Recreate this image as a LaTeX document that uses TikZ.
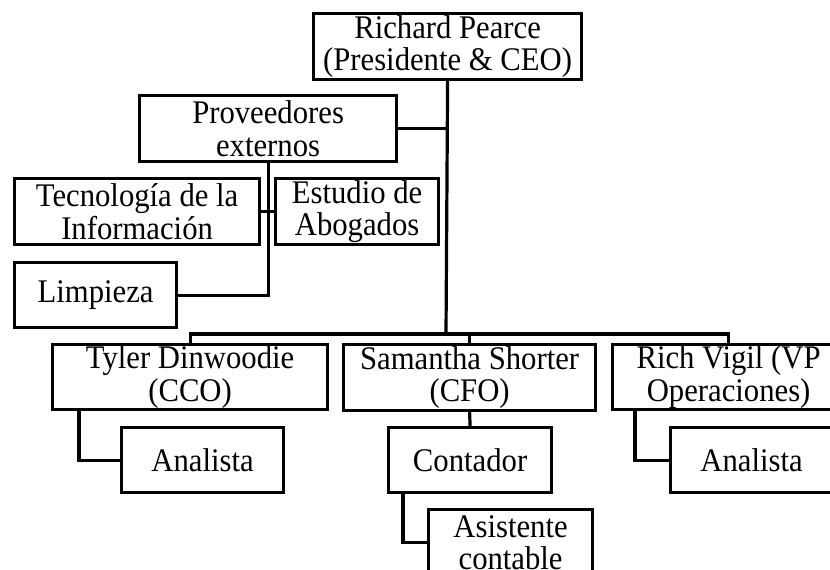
\documentclass[tikz,border=0pt]{standalone}
\usepackage{fontspec}
\setmainfont{Liberation Serif}[FakeStretch=0.93]
\begin{document}
\begin{tikzpicture}[x=1pt,y=-1pt,
  box/.style={draw, line width=3.2pt, inner sep=0pt, align=center, anchor=north west,
    font=\fontsize{33}{32.5}\selectfont},
  link/.style={line width=3.2pt}]
\useasboundingbox (0,0) rectangle (830,570);
\clip (0,0) rectangle (830,570);

% Top of the chart and outside providers
\node[box, minimum width=268pt, minimum height=66pt] (ceo) at (312,12) {Richard Pearce\\(Presidente \& CEO)};
\node[box, minimum width=257pt, minimum height=66pt] (prov) at (138,94) {Proveedores\\externos};
\node[box, minimum width=245pt, minimum height=66pt] (ti) at (13,177) {Tecnología de la\\Información};
\node[box, minimum width=163pt, minimum height=66pt] (abog) at (274,177) {Estudio de\\Abogados};
\node[box, minimum width=162pt, minimum height=65pt] (limp) at (13,261) {Limpieza};

% Direct reports
\node[box, minimum width=275pt, minimum height=65pt] (cco) at (51,343) {Tyler Dinwoodie\\(CCO)};
\node[box, minimum width=252pt, minimum height=66pt] (cfo) at (342,343) {Samantha Shorter\\(CFO)};
\node[box, minimum width=232pt, minimum height=65pt] (vpo) at (611,343) {Rich Vigil (VP\\Operaciones)};

% Staff
\node[box, minimum width=162pt, minimum height=65pt] (an1) at (120,426) {Analista};
\node[box, minimum width=163pt, minimum height=65pt] (cont) at (387,426) {Contador};
\node[box, minimum width=164pt, minimum height=66pt] (asis) at (427,508) {Asistente\\contable};
\node[box, minimum width=162pt, minimum height=65pt] (an2) at (669,426) {Analista};

\coordinate (bus) at (446,334);

% Connectors
\draw[link] (ceo.south) -- (bus);
\draw[link] (prov.east) -- (prov.east -| ceo.south);
\draw[link] (prov.south) |- (limp.east);
\draw[link] (ti.east) -- (abog.west);
\draw[link] (cco.north) -- (cco.north |- bus) -- (vpo.north |- bus) -- (vpo.north);
\draw[link] (cfo.north) -- (cfo.north |- bus);
\draw[link] ([xshift=28pt]cco.south west) |- (an1.west);
\draw[link] (cfo.south) -- (cont.north);
\draw[link] ([xshift=16pt]cont.south west) |- (asis.west);
\draw[link] ([xshift=24pt]vpo.south west) |- (an2.west);
\end{tikzpicture}
\end{document}
